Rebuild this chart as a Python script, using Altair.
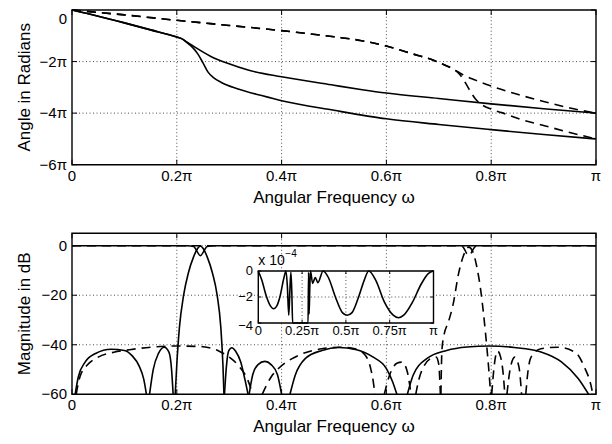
import altair as alt
import pandas as pd

# ---------------- data (frequency in units of pi) ----------------
X_TICKS = [0, 0.2, 0.4, 0.6, 0.8, 1.0]
X_TICK_LABELS = ["0", "0.2π", "0.4π", "0.6π", "0.8π", "π"]
X_GRID = [0.2, 0.4, 0.6, 0.8]
PH_TICKS = [0, -2, -4, -6]
PH_TICK_LABELS = ["0", "−2π", "−4π", "−6π"]
PH_GRID = [-2, -4]
DB_TICKS = [0, -20, -40, -60]
DB_TICK_LABELS = ["0", "−20", "−40", "−60"]
DB_GRID = [0, -20, -40]
INS_X_TICKS = [0, 0.25, 0.5, 0.75, 1.0]
INS_X_LABELS = ["0", "0.25π", "0.5π", "0.75π", "π"]
INS_X_GRID = [0.25, 0.5, 0.75]
INS_Y_TICKS = [0, -2, -4]
INS_Y_LABELS = ["0", "−2", "−4"]
INS_Y_GRID = [-2]

# phase (units of pi)
PH_SOLID_UP_W = [0, 0.05, 0.1, 0.15, 0.2, 0.21, 0.22, 0.233, 0.265, 0.297, 0.336, 0.4, 0.5, 0.554, 0.6, 0.7, 0.8, 0.9, 1.0]
PH_SOLID_UP_V = [0, -0.24, -0.5, -0.77, -1.05, -1.12, -1.25, -1.42, -1.80, -2.07, -2.33, -2.59, -2.92, -3.09, -3.22, -3.43, -3.64, -3.83, -4.0]
PH_SOLID_LO_W = [0, 0.05, 0.1, 0.15, 0.2, 0.21, 0.22, 0.23, 0.24, 0.25, 0.26, 0.27, 0.285, 0.317, 0.362, 0.4, 0.5, 0.6, 0.7, 0.8, 0.9, 1.0]
PH_SOLID_LO_V = [0, -0.24, -0.5, -0.77, -1.05, -1.12, -1.28, -1.45, -1.70, -2.05, -2.42, -2.62, -2.81, -3.06, -3.32, -3.52, -3.89, -4.22, -4.44, -4.64, -4.83, -5.0]
PH_DASH_UP_W = [0, 0.1, 0.2, 0.3, 0.4, 0.5, 0.55, 0.6, 0.65, 0.69, 0.71, 0.73, 0.745, 0.77, 0.8, 0.85, 0.9, 0.95, 1.0]
PH_DASH_UP_V = [0, -0.19, -0.4, -0.6, -0.8, -1.04, -1.18, -1.4, -1.7, -1.95, -2.12, -2.32, -2.5, -2.72, -2.95, -3.27, -3.55, -3.8, -4.0]
PH_DASH_LO_W = [0, 0.1, 0.2, 0.3, 0.4, 0.5, 0.55, 0.6, 0.65, 0.69, 0.71, 0.73, 0.74, 0.75, 0.76, 0.77, 0.78, 0.8, 0.82, 0.85, 0.9, 0.95, 1.0]
PH_DASH_LO_V = [0, -0.19, -0.4, -0.6, -0.8, -1.04, -1.18, -1.4, -1.7, -1.95, -2.12, -2.32, -2.5, -2.8, -3.15, -3.45, -3.64, -3.85, -3.98, -4.2, -4.48, -4.75, -5.0]

# magnitude in dB, solid filter (each lobe its own segment)
MAG_SOLID = {
    "s1": ([0.006, 0.012, 0.025, 0.045, 0.075, 0.1, 0.115, 0.128, 0.137, 0.142],
           [-60, -53, -47, -43.5, -41.8, -42.3, -44.5, -48.5, -54, -60]),
    "s2": ([0.148, 0.155, 0.165, 0.176, 0.185, 0.19, 0.193],
           [-60, -50, -43.5, -41, -43, -50, -60]),
    "s_main": ([0.197, 0.2, 0.205, 0.213, 0.222, 0.232, 0.24, 0.245, 0.25, 0.258, 0.268, 0.277, 0.284, 0.288, 0.29],
               [-60, -48, -33, -20, -11, -4.5, -1, -0.1, -1, -4.5, -11, -20, -33, -48, -60]),
    "s3": ([0.291, 0.295, 0.299, 0.305, 0.312, 0.322, 0.33, 0.336],
           [-60, -48, -42.5, -41.2, -42.5, -47, -54, -60]),
    "s4": ([0.338, 0.345, 0.355, 0.368, 0.38, 0.392, 0.4],
           [-60, -52, -48, -46.7, -48, -52, -60]),
    "s5": ([0.416, 0.426, 0.445, 0.477, 0.509, 0.541, 0.574, 0.6, 0.612, 0.62],
           [-60, -52.3, -45.6, -42.3, -41.1, -41.9, -44.9, -49.6, -55, -60]),
    "s6": ([0.64, 0.651, 0.677, 0.715, 0.754, 0.797, 0.844, 0.895, 0.934, 0.966, 0.986],
           [-60, -52.3, -45.6, -42.3, -40.9, -40.5, -41.1, -42.9, -46.9, -53.6, -60]),
    "s_notch": ([0, 0.22, 0.232, 0.245, 0.258, 0.27, 1.0],
                [0, 0, -0.3, -4, -0.3, 0, 0]),
}
# magnitude in dB, dashed filter
MAG_DASH = {
    "d1": ([0.008, 0.015, 0.03, 0.05, 0.08, 0.11, 0.15, 0.2, 0.25, 0.28, 0.3, 0.32, 0.335, 0.345],
           [-60, -53, -48, -45, -43, -42, -41, -40.5, -40.8, -42.5, -45, -49, -54, -60]),
    "d2": ([0.363, 0.38, 0.394, 0.42, 0.445, 0.477, 0.51, 0.54, 0.56, 0.57, 0.575, 0.578],
           [-60, -53, -49.6, -45.6, -43.2, -41.6, -41, -41.6, -44.3, -49.6, -55, -60]),
    "d3": ([0.596, 0.606, 0.62, 0.63, 0.64, 0.647],
           [-60, -52.3, -47.5, -47, -51, -60]),
    "d4": ([0.656, 0.662, 0.672, 0.685, 0.695, 0.7, 0.703],
           [-60, -54, -48.5, -45.5, -45, -48, -60]),
    "d_main": ([0.704, 0.706, 0.71, 0.718, 0.727, 0.738, 0.749, 0.757, 0.765, 0.772, 0.78, 0.789, 0.795, 0.799],
               [-60, -42, -36, -31, -24, -11, -3, -0.6, -2.5, -8, -18, -35, -49, -60]),
    "d5": ([0.801, 0.806, 0.812, 0.818, 0.823, 0.826],
           [-60, -48, -42.5, -45, -52, -60]),
    "d6": ([0.83, 0.836, 0.845, 0.853, 0.858],
           [-60, -50, -45, -49, -60]),
    "d7": ([0.866, 0.87, 0.876, 0.895, 0.927, 0.96, 0.979, 0.99, 0.994],
           [-60, -51, -45, -41.6, -41, -43, -49.6, -56, -60]),
    "d_notch": ([0, 0.735, 0.745, 0.757, 0.77, 0.78, 1.0],
                [0, 0, -0.3, -4, -0.3, 0, 0]),
}
# inset: passband ripple of the solid notch filter (x 1e-4 dB)
INS_W = [0, 0.02, 0.045, 0.07, 0.087, 0.105, 0.125, 0.145, 0.158, 0.166, 0.174, 0.18, 0.186, 0.191, 0.196,
         0.284, 0.287, 0.29, 0.294, 0.298, 0.31, 0.325, 0.34, 0.37, 0.4, 0.44, 0.48, 0.507, 0.535, 0.57,
         0.605, 0.63, 0.67, 0.72, 0.77, 0.8, 0.83, 0.88, 0.93, 0.97, 1.0]
INS_V = [0, -0.7, -1.9, -2.7, -2.9, -2.7, -1.9, -0.6, 0, -1.2, -3.4, -1.6, -0.1, -1.5, -6,
         -6, -0.1, -3.3, -1.2, 0, -0.95, -0.5, -0.9, 0, -0.5, -2.0, -3.2, -3.4, -3.2, -2.1,
         -0.7, 0, -0.7, -2.4, -3.4, -3.6, -3.4, -2.4, -1.0, -0.2, 0]

# ---------------- layout / style ----------------
W, H = 596, 428
XR = [64, 588]
TOP_YR = [156.7, 2.0]
BOT_YR = [386.3, 225.3]
INS_XR = [250.3, 425.5]
INS_YR = [315.0, 263.0]
FONT = "Liberation Sans"
DOT = [1, 2.5]
DASH = [9, 6]
LW = 1.6


def sc(dom, rng, clamp=False):
    if clamp:
        return alt.Scale(domain=dom, range=rng, nice=False, zero=False, clamp=True)
    return alt.Scale(domain=dom, range=rng, nice=False, zero=False)


X_MAIN = sc([0, 1], XR)
Y_TOP = sc([-6, 0], TOP_YR)
Y_BOT = sc([-60, 5], BOT_YR)
X_INS = sc([0, 1], INS_XR)
Y_INS = sc([-4, 0], INS_YR, clamp=True)


def X(f, s):
    return alt.X(f, type="quantitative", scale=s, axis=None)


def Y(f, s):
    return alt.Y(f, type="quantitative", scale=s, axis=None)


def series_df(series):
    rows = []
    for name, (w, v) in series.items():
        for a, b in zip(w, v):
            rows.append({"seg": name, "w": a, "v": b})
    return pd.DataFrame(rows)


def lines(df, xs, ys, dash=None, width=LW):
    kw = dict(stroke="black", strokeWidth=width, interpolate="monotone")
    if dash:
        kw["strokeDash"] = dash
    return alt.Chart(df).mark_line(**kw).encode(
        x=X("w", xs), y=Y("v", ys), detail="seg:N")


def grid(xs, ys, xg, yg, xlo, xhi, ylo, yhi):
    out = []
    if xg:
        df = pd.DataFrame({"x": xg, "y0": [ylo] * len(xg), "y1": [yhi] * len(xg)})
        out.append(alt.Chart(df).mark_rule(stroke="black", strokeWidth=0.7, strokeDash=DOT).encode(
            x=X("x", xs), y=Y("y0", ys), y2="y1:Q"))
    if yg:
        df = pd.DataFrame({"y": yg, "x0": [xlo] * len(yg), "x1": [xhi] * len(yg)})
        out.append(alt.Chart(df).mark_rule(stroke="black", strokeWidth=0.7, strokeDash=DOT).encode(
            x=X("x0", xs), x2="x1:Q", y=Y("y", ys)))
    return out


def frame(xs, ys, xlo, xhi, ylo, yhi, xt, yt, L, fill=False, sw=1.4):
    df = pd.DataFrame({"x0": [xlo], "x1": [xhi], "y0": [ylo], "y1": [yhi]})
    if fill:
        return [alt.Chart(df).mark_rect(fill="white", strokeWidth=0).encode(
            x=X("x0", xs), x2="x1:Q", y=Y("y0", ys), y2="y1:Q")]
    out = [alt.Chart(df).mark_rect(fill="white", fillOpacity=0, stroke="black", strokeWidth=sw).encode(
        x=X("x0", xs), x2="x1:Q", y=Y("y0", ys), y2="y1:Q")]
    for yv, off in ((ylo, -L), (yhi, L)):
        d = pd.DataFrame({"x": xt, "y": [yv] * len(xt)})
        out.append(alt.Chart(d).mark_rule(stroke="black", strokeWidth=1, y2Offset=off).encode(
            x=X("x", xs), y=Y("y", ys), y2="y:Q"))
    for xv, off in ((xlo, L), (xhi, -L)):
        d = pd.DataFrame({"y": yt, "x": [xv] * len(yt)})
        out.append(alt.Chart(d).mark_rule(stroke="black", strokeWidth=1, x2Offset=off).encode(
            x=X("x", xs), x2="x:Q", y=Y("y", ys)))
    return out


def xlabels(xs, ys, vals, labels, yv, dy, size):
    df = pd.DataFrame({"x": vals, "y": [yv] * len(vals), "t": labels})
    return alt.Chart(df).mark_text(font=FONT, fontSize=size, color="black", align="center",
                                   baseline="middle", dy=dy).encode(
        x=X("x", xs), y=Y("y", ys), text="t:N")


def ylabels(ys, vals, labels, px, size, baseline="middle", dy=0):
    df = pd.DataFrame({"y": vals, "t": labels})
    return alt.Chart(df).mark_text(font=FONT, fontSize=size, color="black", align="right",
                                   baseline=baseline, dy=dy).encode(
        x=alt.value(px), y=Y("y", ys), text="t:N")


def xtitle(xs, ys, text, xv, yv, dy, size=17):
    df = pd.DataFrame({"x": [xv], "y": [yv], "t": [text]})
    return alt.Chart(df).mark_text(font=FONT, fontSize=size, color="black", align="center",
                                   baseline="middle", dy=dy).encode(
        x=X("x", xs), y=Y("y", ys), text="t:N")


def ytitle(ys, text, yv, px, size=17):
    df = pd.DataFrame({"y": [yv], "t": [text]})
    return alt.Chart(df).mark_text(font=FONT, fontSize=size, color="black", align="center",
                                   baseline="middle", angle=270).encode(
        x=alt.value(px), y=Y("y", ys), text="t:N")


layers = []

# ---------- top panel: phase ----------
layers += grid(X_MAIN, Y_TOP, X_GRID, PH_GRID, 0, 1, -6, 0)
ph_solid = series_df({"a": (PH_SOLID_UP_W, PH_SOLID_UP_V), "b": (PH_SOLID_LO_W, PH_SOLID_LO_V)})
ph_dash = series_df({"c": (PH_DASH_UP_W, PH_DASH_UP_V), "d": (PH_DASH_LO_W, PH_DASH_LO_V)})
layers.append(lines(ph_solid, X_MAIN, Y_TOP))
layers.append(lines(ph_dash, X_MAIN, Y_TOP, dash=DASH))
layers += frame(X_MAIN, Y_TOP, 0, 1, -6, 0, X_TICKS, PH_TICKS, 5)
layers.append(xlabels(X_MAIN, Y_TOP, X_TICKS, X_TICK_LABELS, -6, 11, 15))
layers.append(ylabels(Y_TOP, PH_TICKS[:1], PH_TICK_LABELS[:1], 59, 15, baseline="top", dy=2))
layers.append(ylabels(Y_TOP, PH_TICKS[1:], PH_TICK_LABELS[1:], 59, 15))
layers.append(xtitle(X_MAIN, Y_TOP, "Angular Frequency ω", 0.5, -6, 33))
layers.append(ytitle(Y_TOP, "Angle in Radians", -3, 17))

# ---------- bottom panel: magnitude ----------
layers += grid(X_MAIN, Y_BOT, X_GRID, DB_GRID, 0, 1, -60, 5)
layers.append(lines(series_df(MAG_SOLID), X_MAIN, Y_BOT))
layers.append(lines(series_df(MAG_DASH), X_MAIN, Y_BOT, dash=DASH))
layers += frame(X_MAIN, Y_BOT, 0, 1, -60, 5, X_TICKS, DB_TICKS, 5)
layers.append(xlabels(X_MAIN, Y_BOT, X_TICKS, X_TICK_LABELS, -60, 11, 15))
layers.append(ylabels(Y_BOT, DB_TICKS, DB_TICK_LABELS, 59, 15))
layers.append(xtitle(X_MAIN, Y_BOT, "Angular Frequency ω", 0.5, -60, 33))
layers.append(ytitle(Y_BOT, "Magnitude in dB", -27.5, 17))

# ---------- inset ----------
layers += frame(X_INS, Y_INS, 0, 1, -4, 0, [], [], 0, fill=True)
layers += grid(X_INS, Y_INS, INS_X_GRID, INS_Y_GRID, 0, 1, -4, 0)
layers.append(lines(pd.DataFrame({"seg": "r", "w": INS_W, "v": INS_V}), X_INS, Y_INS))
layers += frame(X_INS, Y_INS, 0, 1, -4, 0, INS_X_TICKS, INS_Y_TICKS, 3)
layers.append(xlabels(X_INS, Y_INS, INS_X_TICKS, INS_X_LABELS, -4, 8, 13))
layers.append(ylabels(Y_INS, INS_Y_TICKS[:2], INS_Y_LABELS[:2], 245, 13))
layers.append(ylabels(Y_INS, INS_Y_TICKS[2:], INS_Y_LABELS[2:], 245, 13, dy=3))
mult = pd.DataFrame({"x": [0], "y": [0], "t": ["x 10"]})
layers.append(alt.Chart(mult).mark_text(font=FONT, fontSize=14, color="black", align="left",
                                        baseline="alphabetic", dy=-6).encode(
    x=X("x", X_INS), y=Y("y", Y_INS), text="t:N"))
expo = pd.DataFrame({"x": [0], "y": [0], "t": ["−4"]})
layers.append(alt.Chart(expo).mark_text(font=FONT, fontSize=10, color="black", align="left",
                                        baseline="alphabetic", dx=27, dy=-14).encode(
    x=X("x", X_INS), y=Y("y", Y_INS), text="t:N"))

chart = alt.layer(*layers).resolve_scale(x="independent", y="independent").properties(
    width=W, height=H, padding=0, autosize=alt.AutoSizeParams(type="none"),
    background="white").configure_view(stroke=None)

chart.save("out.html", embed_options={"renderer": "svg", "actions": False})
